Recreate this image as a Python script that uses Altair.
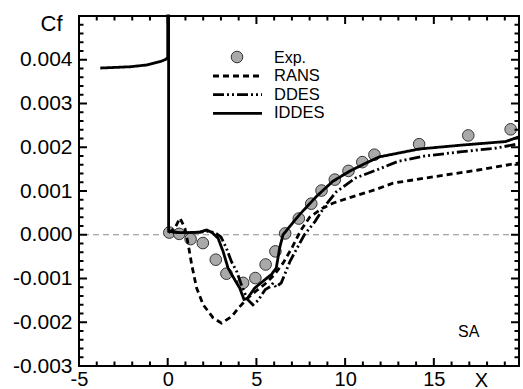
import altair as alt
import numpy as np
import pandas as pd

# Experimental skin-friction measurements
exp_x = [0.09, 0.65, 1.29, 1.98, 2.71, 3.31, 4.25, 4.94, 5.52, 6.07, 6.62,
         7.39, 8.09, 8.67, 9.42, 10.19, 10.97, 11.65, 14.17, 16.94, 19.33]
exp_cf = [0.00005, 0.00002, -0.00010, -0.00019, -0.00057, -0.00089, -0.00110,
          -0.00099, -0.00068, -0.00038, 0.00003, 0.00037, 0.00071, 0.00101,
          0.00126, 0.00146, 0.00166, 0.00183, 0.00207, 0.00227, 0.00241]

# IDDES (includes the upstream wall and the leading-edge spike)
iddes_x = [-3.8, -2.1, -1.2, -0.4, -0.1, 0.0, 0.0, 0.05, 0.05, 0.6, 1.2, 1.8,
           2.2, 2.5, 2.84, 3.12, 3.4, 3.78, 4.06, 4.3, 4.5, 4.9, 5.47, 5.84,
           6.12, 6.31, 6.5, 6.9, 7.43, 8.37, 9.3, 10.24, 11.18, 11.93, 14.17,
           16.6, 19.04, 19.6, 19.8]
iddes_cf = [0.00381, 0.00384, 0.00388, 0.00396, 0.00401, 0.00405, 0.0050,
            0.0050, 0.00008, 0.00005, 0.00005, 0.00006, 0.00011, 0.00005,
            -0.00008, -0.00038, -0.00076, -0.00103, -0.00122, -0.00148,
            -0.00145, -0.00122, -0.00103, -0.00091, -0.00076, -0.00030, 0.0,
            0.00020, 0.00046, 0.00087, 0.00122, 0.00145, 0.00164, 0.00178,
            0.00196, 0.00205, 0.00213, 0.00221, 0.00224]

# DDES
ddes_x = [0.05, 0.6, 1.2, 1.8, 2.3, 2.7, 3.0, 3.3, 3.6, 3.9, 4.2, 4.5, 4.8,
          5.1, 5.5, 5.8, 5.95, 6.1, 6.4, 6.9, 7.3, 7.7, 8.3, 8.9, 9.5, 10.6,
          11.9, 13.0, 14.5, 16.6, 18.5, 19.8]
ddes_cf = [0.00008, 0.00005, 0.00005, 0.00006, 0.00008, 0.00004, -0.00005,
           -0.00030, -0.00062, -0.00085, -0.00120, -0.00148, -0.00160,
           -0.00150, -0.00125, -0.00118, -0.00110, -0.00120, -0.00110,
           -0.00060, -0.00030, 0.0, 0.00030, 0.00068, 0.00098, 0.00130,
           0.00150, 0.00168, 0.00180, 0.00190, 0.00198, 0.00208]

# RANS
rans_x = [0.05, 0.4, 0.69, 0.97, 1.16, 1.35, 1.63, 2.0, 2.56, 3.03, 3.6, 4.0,
          4.5, 5.0, 5.5, 6.0, 6.5, 7.0, 7.5, 8.0, 8.7, 9.3, 10.2, 11.7, 12.7,
          15.7, 17.5, 19.8]
rans_cf = [0.00005, 0.00015, 0.00038, 0.00015, -0.00023, -0.00068, -0.00122,
           -0.00160, -0.00190, -0.00202, -0.00187, -0.00167, -0.00145,
           -0.00128, -0.00112, -0.00092, -0.00065, -0.00030, 0.00010,
           0.00040, 0.00060, 0.00072, 0.00084, 0.00103, 0.00118, 0.00137,
           0.00148, 0.00164]

models = ["RANS", "DDES", "IDDES"]
dashes = [[6, 4], [11, 3, 2, 3, 2, 3], [1, 0]]
series = {"RANS": (rans_x, rans_cf), "DDES": (ddes_x, ddes_cf),
          "IDDES": (iddes_x, iddes_cf)}

# axis tick positions
x_major = [-5, 0, 5, 10, 15]
x_minor = [-4, -3, -2, -1, 1, 2, 3, 4, 6, 7, 8, 9, 11, 12, 13, 14, 16, 17, 18, 19]
y_major = [-0.003, -0.002, -0.001, 0.0, 0.001, 0.002, 0.003, 0.004, 0.005]
y_minor = [round(-0.003 + 0.0002 * k, 4) for k in range(41) if k % 5 != 0]

W, H = 440, 350
FONT = "Liberation Sans"
xscale = alt.Scale(domain=[-5, 19.8], nice=False, zero=False)
yscale = alt.Scale(domain=[-0.003, 0.005], nice=False, zero=False)

fix_minus = "replace(datum.label, '\u2212', '-')"

x_axis = alt.Axis(values=x_major, ticks=False, domain=False, grid=False,
                  labelFontSize=20, labelPadding=3, labelExpr=fix_minus,
                  labelFlush=False, labelFont=FONT, labelColor="black",
                  title="X", titleX=402, titleY=20, titleAlign="center",
                  titleBaseline="alphabetic", titleFontSize=20, titleFont=FONT,
                  titleColor="black", titleFontWeight="normal")
y_axis = alt.Axis(values=y_major[:-1], format=".3f", ticks=False,
                  domain=False, grid=False, labelFontSize=21, labelPadding=7,
                  labelExpr=fix_minus, labelFlush=False, labelFont=FONT,
                  labelColor="black",
                  title="Cf", titleAngle=0, titleX=-28, titleY=14,
                  titleAlign="center", titleBaseline="alphabetic",
                  titleFontSize=22, titleFont=FONT, titleColor="black",
                  titleFontWeight="normal")

zero_line = alt.Chart(pd.DataFrame({"y": [0.0]})).mark_rule(
    color="#8a8a8a", strokeDash=[6, 4], strokeWidth=1
).encode(y=alt.Y("y:Q", scale=yscale, axis=y_axis))

points = alt.Chart(pd.DataFrame({"x": exp_x, "cf": exp_cf})).mark_point(
    shape="circle", filled=True, size=135, fill="#a9a9a9", fillOpacity=1,
    stroke="#333333", strokeWidth=1
).encode(x=alt.X("x:Q", scale=xscale, axis=x_axis),
         y=alt.Y("cf:Q", scale=yscale))

# One line layer per model, each with its own dash pattern
curves = []
for m, dash in zip(models, dashes):
    xs, ys = series[m]
    df = pd.DataFrame({"x": xs, "cf": ys, "i": range(len(xs))})
    curves.append(alt.Chart(df).mark_line(
        color="black", strokeWidth=2.8, strokeDash=dash
    ).encode(x=alt.X("x:Q", scale=xscale), y=alt.Y("cf:Q", scale=yscale),
             order="i:Q"))


# Inward ticks on all four sides of the frame
def xticks(vals, length):
    d = pd.DataFrame({"tx": vals})
    bottom = alt.Chart(d).mark_rule(color="black", strokeWidth=2).encode(
        x=alt.X("tx:Q", scale=xscale), y=alt.value(H), y2=alt.value(H - length))
    top = alt.Chart(d).mark_rule(color="black", strokeWidth=2).encode(
        x=alt.X("tx:Q", scale=xscale), y=alt.value(0), y2=alt.value(length))
    return [bottom, top]


def yticks(vals, length):
    d = pd.DataFrame({"ty": vals})
    left = alt.Chart(d).mark_rule(color="black", strokeWidth=2).encode(
        y=alt.Y("ty:Q", scale=yscale), x=alt.value(0), x2=alt.value(length))
    right = alt.Chart(d).mark_rule(color="black", strokeWidth=2).encode(
        y=alt.Y("ty:Q", scale=yscale), x=alt.value(W), x2=alt.value(W - length))
    return [left, right]


ticks = (xticks(x_major, 8) + xticks(x_minor, 4.5)
         + yticks(y_major, 8) + yticks(y_minor, 4.5))

# Legend block
one = pd.DataFrame({"a": [0]})
legend = [
    alt.Chart(one).mark_point(shape="circle", filled=True, size=135,
                              fill="#a9a9a9", fillOpacity=1, stroke="#333333",
                              strokeWidth=1).encode(x=alt.value(158), y=alt.value(41)),
    alt.Chart(pd.DataFrame({"t": ["Exp."]})).mark_text(
        align="left", baseline="middle", fontSize=16, font=FONT,
        color="black").encode(text="t:N", x=alt.value(195), y=alt.value(42)),
]
for k, (m, dash) in enumerate(zip(models, dashes)):
    yy = 60 + k * 18.7
    legend.append(alt.Chart(one).mark_rule(
        color="black", strokeWidth=2.8, strokeDash=dash
    ).encode(x=alt.value(134), x2=alt.value(183), y=alt.value(yy)))
    legend.append(alt.Chart(pd.DataFrame({"t": [m]})).mark_text(
        align="left", baseline="middle", fontSize=16.5, font=FONT,
        color="black").encode(text="t:N", x=alt.value(195), y=alt.value(yy)))

sa = alt.Chart(pd.DataFrame({"t": ["SA"]})).mark_text(
    align="left", baseline="alphabetic", fontSize=16, font=FONT,
    color="black").encode(text="t:N", x=alt.value(379), y=alt.value(320.5))

chart = alt.layer(zero_line, points, *ticks, *curves, *legend, sa).properties(
    width=W, height=H,
    autosize=alt.AutoSizeParams(type="none"),
    padding={"left": 79, "top": 16, "right": 4, "bottom": 23},
).configure_view(stroke="black", strokeWidth=2)

chart.save("out.html", embed_options={"renderer": "svg", "actions": False})
